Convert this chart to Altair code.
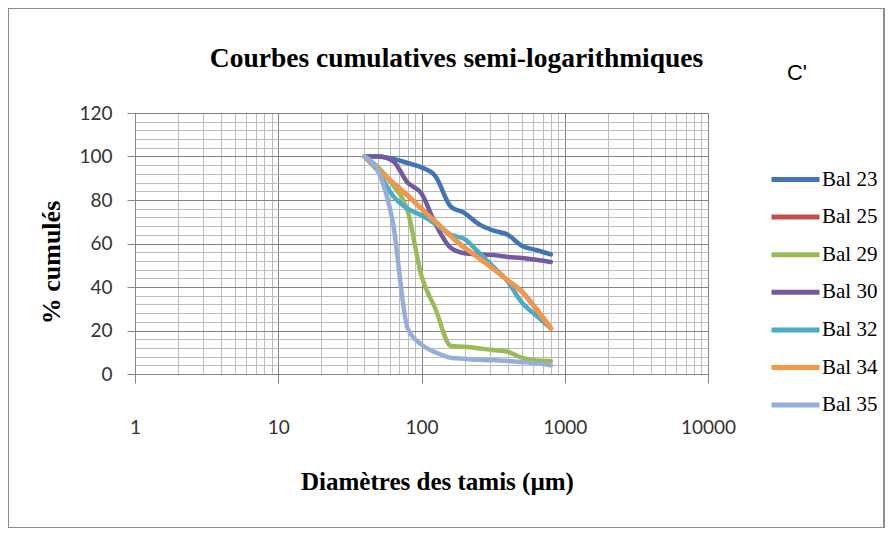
import altair as alt
import pandas as pd

# Sieve sizes (µm) and cumulative percentages
sizes = [40, 50, 63, 80, 100, 125, 160, 200, 250, 315, 400, 500, 630, 800]
series = ["Bal 23", "Bal 25", "Bal 29", "Bal 30", "Bal 32", "Bal 34", "Bal 35"]
bal23 = [100, 100, 99, 97, 95, 91, 77, 74, 69, 66, 64, 59, 57, 55]
bal25 = [100, 94, 88, 82, 76, 70, 63.5, 58, 53.5, 48.5, 43, 38, 30, 21]
bal29 = [100, 95, 87, 75, 45, 30, 13, 12.5, 11.8, 11, 10.2, 7.5, 6.2, 6]
bal30 = [100, 100, 98, 88, 83, 69, 58, 55.5, 55, 54.7, 53.8, 53.3, 52.5, 51.5]
bal32 = [100, 93, 82, 76, 73, 69, 64, 62, 56, 49.5, 42.5, 33, 27, 21]
bal34 = [100, 94, 88, 82, 76, 70, 63.5, 58, 53.5, 48.5, 43, 38, 30, 21]
bal35 = [100, 93, 70, 21, 13.5, 10, 7.5, 7, 6.5, 6.3, 6, 5.5, 5, 4]
colors = ["#4274B4", "#C0504D", "#9BBB59", "#7459A0", "#4BACC6", "#F79646", "#97AEDA"]

x_major = [1, 10, 100, 1000, 10000]
x_grid = [1, 2, 3, 4, 5, 6, 7, 8, 9,
          10, 20, 30, 40, 50, 60, 70, 80, 90,
          100, 200, 300, 400, 500, 600, 700, 800, 900,
          1000, 2000, 3000, 4000, 5000, 6000, 7000, 8000, 9000, 10000]
y_grid = list(range(0, 121, 4))

rows = []
for name, vals in zip(series, [bal23, bal25, bal29, bal30, bal32, bal34, bal35]):
    for s, v in zip(sizes, vals):
        rows.append({"serie": name, "taille": s, "pct": v})
df = pd.DataFrame(rows)

major_test_x = "indexof([1,10,100,1000,10000], datum.value) >= 0"
major_test_y = "datum.value % 20 === 0"

x_axis = alt.Axis(
    values=x_grid,
    labelExpr=f"{major_test_x} ? format(datum.value, 'd') : ''",
    labelFont="Lato", labelFontSize=19, labelColor="#333333",
    labelPadding=35, labelOverlap=False, labelFlush=False, labelBound=False,
    tickSize=9, tickWidth=1,
    tickColor={"condition": {"test": major_test_x, "value": "#868686"}, "value": "transparent"},
    grid=True, gridWidth=1,
    gridColor={"condition": {"test": major_test_x, "value": "#828282"}, "value": "#bcbcbc"},
    domainColor="#868686",
    title="Diamètres des tamis (µm)",
    titleFont="Liberation Serif", titleFontWeight="bold", titleFontSize=25, titleColor="black",
    titleX=302, titleY=107, titleBaseline="middle", titleAlign="center",
)

y_axis = alt.Axis(
    values=y_grid,
    labelExpr=f"{major_test_y} ? datum.label : ''",
    labelFont="Lato", labelFontSize=19, labelColor="#333333",
    labelPadding=15, labelOverlap=False,
    tickSize=8, tickWidth=1,
    tickColor={"condition": {"test": major_test_y, "value": "#868686"}, "value": "transparent"},
    grid=True, gridWidth=1,
    gridColor={"condition": {"test": major_test_y, "value": "#828282"}, "value": "#bcbcbc"},
    domainColor="#868686",
    title="% cumulés",
    titleFont="Liberation Serif", titleFontWeight="bold", titleFontSize=26, titleColor="black",
    titleAngle=270, titleX=-84, titleY=149, titleBaseline="middle", titleAlign="center",
)

legend = alt.Legend(
    orient="none", legendX=634, legendY=52, title=None,
    symbolType="M-1,0L3,0", symbolSize=576, symbolStrokeWidth=5,
    labelFont="Liberation Serif", labelFontSize=21, labelColor="black",
    rowPadding=12.6, labelOffset=24, padding=0,
)

lines = alt.Chart(df).mark_line(
    strokeWidth=4.5, interpolate="monotone", strokeCap="round", strokeJoin="round"
).encode(
    x=alt.X("taille:Q", scale=alt.Scale(type="log", domain=[1, 10000], nice=False), axis=x_axis),
    y=alt.Y("pct:Q", scale=alt.Scale(domain=[0, 120], nice=False), axis=y_axis),
    color=alt.Color("serie:N", scale=alt.Scale(domain=series, range=colors), legend=legend),
    order=alt.Order("taille:Q"),
)

label_c = alt.Chart(pd.DataFrame({"t": ["C'"]})).mark_text(
    font="Liberation Sans", fontSize=22, color="black"
).encode(text="t:N", x=alt.value(662), y=alt.value(-40))

border = alt.Chart(pd.DataFrame({"a": [0]})).mark_rect(
    filled=False, stroke="#8c8c8c", strokeWidth=2
).encode(x=alt.value(-127), x2=alt.value(749), y=alt.value(-105), y2=alt.value(415))

chart = alt.layer(border, lines, label_c).properties(
    width=573, height=261,
    autosize=alt.AutoSizeParams(type="none"),
    padding={"left": 127, "top": 105, "right": 177, "bottom": 154},
    title=alt.TitleParams(
        "Courbes cumulatives semi-logarithmiques",
        font="Liberation Serif", fontSize=27.5, fontWeight="bold", color="black",
        anchor="middle", dx=35, offset=0, dy=65,
    ),
).configure_view(stroke=None).configure(background="white")

chart.save("out.html", embed_options={"renderer": "svg", "actions": False})
